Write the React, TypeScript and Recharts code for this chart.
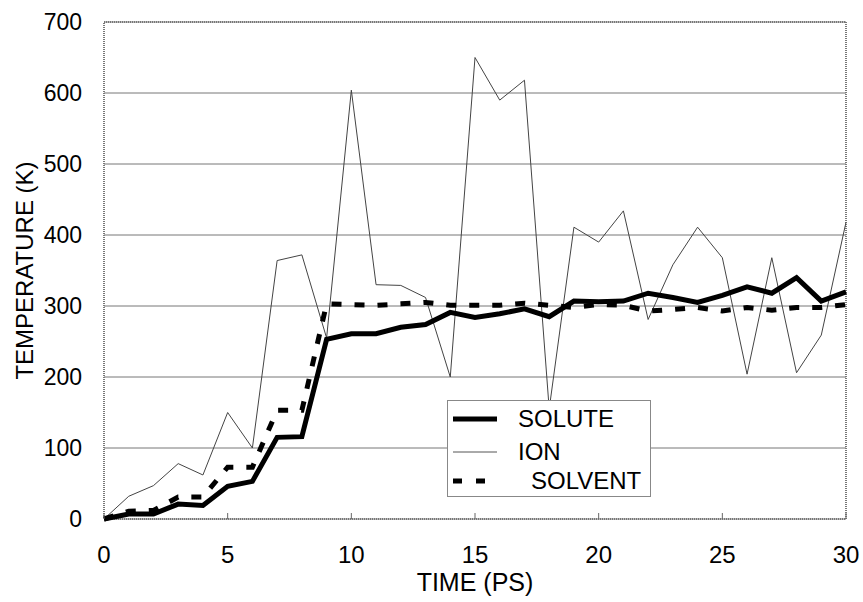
import React from 'react';
import { LineChart, Line, XAxis, YAxis, CartesianGrid, Legend, ReferenceArea, Label } from 'recharts';

// time in ps, temperatures in K
const time = [0, 1, 2, 3, 4, 5, 6, 7, 8, 9, 10, 11, 12, 13, 14, 15, 16, 17, 18, 19, 20, 21, 22, 23, 24, 25, 26, 27, 28, 29, 30];
const solute = [0, 7, 7, 21, 19, 46, 53, 115, 116, 253, 261, 261, 270, 274, 291, 284, 289, 296, 285, 307, 306, 307, 318, 312, 305, 315, 327, 318, 340, 307, 320];
const ion = [0, 32, 47, 78, 62, 150, 100, 364, 372, 255, 604, 330, 329, 312, 200, 650, 590, 618, 155, 411, 390, 434, 281, 358, 411, 368, 204, 368, 206, 259, 418];
const solvent = [0, 11, 12, 31, 31, 73, 73, 153, 153, 303, 302, 301, 303, 305, 301, 301, 301, 304, 301, 298, 302, 301, 293, 295, 298, 293, 298, 294, 298, 298, 302];

const xTicks = [0, 5, 10, 15, 20, 25, 30];
const yTicks = [0, 100, 200, 300, 400, 500, 600, 700];

const data = time.map((t, i) => ({
  t,
  solute: solute[i],
  ion: ion[i],
  solvent: solvent[i],
}));

const FONT = '"Liberation Sans", Arial, sans-serif';

const XTick = (props: any) => {
  const { x, y, payload } = props;
  return (
    <g>
      <line x1={x} y1={y} x2={x} y2={y - 6} stroke="#666" strokeWidth={1} />
      <text x={x} y={y + 44} textAnchor="middle" fontSize={24} fontFamily={FONT} fill="#000">
        {payload.value}
      </text>
    </g>
  );
};

const legendRows = [
  { key: 'solute', label: 'SOLUTE', top: 18, indent: 0, width: 5, dash: undefined as string | undefined },
  { key: 'ion', label: 'ION', top: 51, indent: 0, width: 1, dash: undefined },
  { key: 'solvent', label: 'SOLVENT', top: 80, indent: 13, width: 5, dash: '9 14' },
];

const LegendBox = () => (
  <div
    style={{
      position: 'relative',
      width: 204,
      height: 97,
      boxSizing: 'border-box',
      border: '1px solid #888',
      background: '#fff',
      fontFamily: FONT,
      fontSize: 24,
      color: '#000',
    }}
  >
    {legendRows.map((r) => (
      <div key={r.key}>
        <svg width={44} height={10} style={{ position: 'absolute', left: 5, top: r.top - 5 }}>
          <line
            x1={0}
            y1={5}
            x2={44}
            y2={5}
            stroke={r.key === 'ion' ? '#555' : '#000'}
            strokeWidth={r.width}
            strokeDasharray={r.dash}
          />
        </svg>
        <span
          style={{
            position: 'absolute',
            left: 70 + r.indent,
            top: r.top - 14,
            lineHeight: '28px',
            height: 28,
            whiteSpace: 'nowrap',
          }}
        >
          {r.label}
        </span>
      </div>
    ))}
  </div>
);

export default function App() {
  return (
    <div style={{ position: 'absolute', left: 0, top: 0, background: '#fff' }}>
      <LineChart width={863} height={602} data={data} margin={{ top: 22, right: 17, bottom: 0, left: 0 }}>
        <CartesianGrid horizontal vertical={false} stroke="#777" strokeWidth={1} />
        <XAxis
          dataKey="t"
          type="number"
          domain={[0, 30]}
          ticks={xTicks}
          height={83}
          axisLine={false}
          tickLine={false}
          tickSize={0}
          tickMargin={0}
          tick={<XTick />}
          interval={0}
        >
          <Label
            content={({ viewBox }: any) => (
              <text
                x={viewBox.x + viewBox.width / 2}
                y={591}
                textAnchor="middle"
                fontSize={25}
                fontFamily={FONT}
                fill="#000"
              >
                TIME (PS)
              </text>
            )}
          />
        </XAxis>
        <YAxis
          type="number"
          domain={[0, 700]}
          ticks={yTicks}
          width={104}
          axisLine={false}
          tickLine={false}
          tickSize={0}
          tickMargin={22}
          interval={0}
          tick={{ fontSize: 23, fontFamily: FONT, fill: '#000' }}
        >
          <Label
            content={({ viewBox }: any) => {
              const cx = 24;
              const cy = viewBox.y + viewBox.height / 2;
              return (
                <text
                  x={cx}
                  y={cy}
                  transform={`rotate(-90 ${cx} ${cy})`}
                  textAnchor="middle"
                  dominantBaseline="central"
                  fontSize={24}
                  fontFamily={FONT}
                  fill="#000"
                >
                  TEMPERATURE (K)
                </text>
              );
            }}
          />
        </YAxis>
        <ReferenceArea x1={0} x2={30} y1={0} y2={700} fill="none" stroke="#777" strokeWidth={2} strokeDasharray="1 1" />
        <Line type="linear" dataKey="ion" name="ION" stroke="#444" strokeWidth={1} dot={false} isAnimationActive={false} />
        <Line
          type="linear"
          dataKey="solvent"
          name="SOLVENT"
          stroke="#000"
          strokeWidth={5}
          strokeDasharray="10 13"
          dot={false}
          isAnimationActive={false}
        />
        <Line type="linear" dataKey="solute" name="SOLUTE" stroke="#000" strokeWidth={5} dot={false} isAnimationActive={false} />
        <Legend
          layout="vertical"
          align="center"
          verticalAlign="middle"
          content={() => <LegendBox />}
          wrapperStyle={{ position: 'absolute', left: 447, top: 400, width: 204, height: 97, margin: 0 }}
        />
      </LineChart>
    </div>
  );
}
